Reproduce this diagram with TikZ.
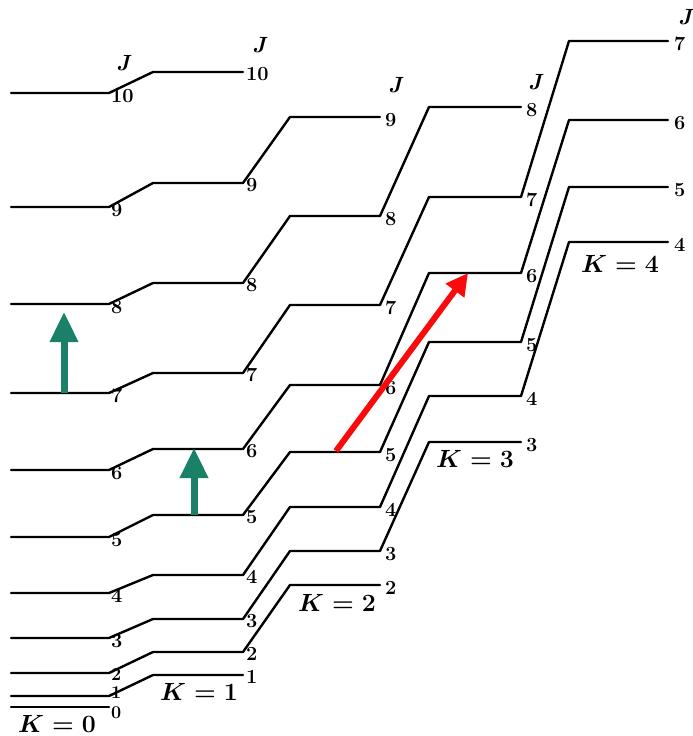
\documentclass[tikz,border=0pt]{standalone}
\usetikzlibrary{arrows.meta}
\definecolor{transgreen}{RGB}{26,128,104}
\definecolor{transred}{RGB}{250,10,10}
\begin{document}
\begin{tikzpicture}[x=1pt,y=-1pt,
  level/.style={line width=2.4pt, line join=round, line cap=round},
  jnum/.style={font=\fontsize{20}{22}\selectfont\bfseries, inner sep=0pt, anchor=west},
  jsmall/.style={jnum, font=\fontsize{18}{20}\selectfont\bfseries},
  jhead/.style={font=\fontsize{22}{24}\selectfont\bfseries\itshape, inner sep=0pt},
  klab/.style={font=\fontsize{25}{27}\selectfont\boldmath, inner sep=0pt},
  greenup/.style={transgreen, line width=7pt, -{Triangle[width=27pt,length=30pt]}},
  redup/.style={transred, line width=6pt, -{Triangle[width=22pt,length=22pt]}},
]
\useasboundingbox (0,0) rectangle (693,736);

% rotational levels: one broken line per J, running through the K columns
% column spans  K0: 11-109   K1: 153-243   K2: 290-380   K3: 429-521   K4: 569-668
\draw[level] (11,93)--(109,93)--(153,72)--(243,72);
\draw[level] (11,207)--(109,207)--(153,183)--(243,183)--(290,117)--(380,117);
\draw[level] (11,304)--(109,304)--(153,283)--(243,283)--(290,216)--(380,216)--(429,107)--(521,107);
\draw[level] (11,393)--(109,393)--(153,373)--(243,373)--(290,305)--(380,305)--(429,197)--(521,197)--(569,41)--(668,41);
\draw[level] (11,470)--(109,470)--(153,449)--(243,449)--(290,385)--(380,385)--(429,273)--(521,273)--(569,120)--(668,120);
\draw[level] (11,537)--(109,537)--(153,515)--(243,515)--(290,452)--(380,452)--(429,342)--(521,342)--(569,187)--(668,187);
\draw[level] (11,593)--(109,593)--(153,575)--(243,575)--(290,507)--(380,507)--(429,396)--(521,396)--(569,242)--(668,242);
\draw[level] (11,638)--(109,638)--(153,619)--(243,619)--(290,551)--(380,551)--(429,442)--(521,442);
\draw[level] (11,673)--(109,673)--(153,652)--(243,652)--(290,585)--(380,585);
\draw[level] (11,696)--(109,696)--(153,675)--(243,675);
\draw[level] (11,707)--(109,707);

% J numbers at the right end of each level
\foreach \y/\t in {93/10,207/9,304/8,393/7,470/6,537/5,593/4,638/3}
  \node[jnum] at (111,\y+3) {\t};
\foreach \y/\t in {675/2,693/1,713/0}
  \node[jsmall] at (111,\y) {\t};
\foreach \y/\t in {72/10,183/9,283/8,373/7,449/6,515/5,575/4,619/3,652/2,675/1}
  \node[jnum] at (246,\y+2) {\t};
\foreach \y/\t in {117/9,216/8,305/7,385/6,452/5,507/4,551/3,585/2}
  \node[jnum] at (385,\y+3) {\t};
\foreach \y/\t in {107/8,197/7,273/6,342/5,396/4,442/3}
  \node[jnum] at (526,\y+3) {\t};
\foreach \y/\t in {41/7,120/6,187/5,242/4}
  \node[jnum] at (674,\y+3) {\t};

% column headings
\node[jhead] (j0) at (123,63) {J};
\node[jhead] (j1) at (259,45) {J};
\node[jhead] (j2) at (395,85) {J};
\node[jhead] (j3) at (535,82) {J};
\node[jhead] (j4) at (685,17) {J};

% K values
\node[klab] (k0) at (57,724) {$K=0$};
\node[klab] (k1) at (199,692) {$K=1$};
\node[klab] (k2) at (337,603) {$K=2$};
\node[klab] (k3) at (475,459) {$K=3$};
\node[klab] (k4) at (620,264) {$K=4$};

% transitions
\coordinate (g1a) at (64,393);  \coordinate (g1b) at (64,312);
\coordinate (g2a) at (194,515); \coordinate (g2b) at (194,448);
\coordinate (ra)  at (336,451); \coordinate (rb)  at (468,273);
\draw[greenup] (g1a) -- (g1b);
\draw[greenup] (g2a) -- (g2b);
\draw[redup] (ra) -- (rb);
\end{tikzpicture}
\end{document}
